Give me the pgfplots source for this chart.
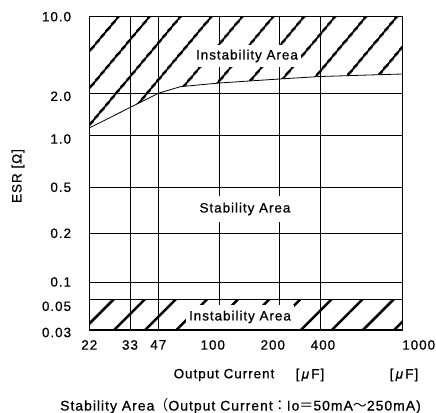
\documentclass[border=0pt]{standalone}
\usepackage{fontspec}
\setmainfont{Liberation Sans}[LetterSpace=7, FakeBold=0.6]
\newfontfamily\jpfont{Noto Sans CJK JP}
\usepackage{pgfplots}
\pgfplotsset{compat=1.18}
\usetikzlibrary{patterns.meta}

\newcommand\cf{\fontsize{13.5bp}{16bp}\selectfont}
% the datasheet scale is uneven, so values are kept in drawing units:
% x: 22=0 33=40.7 47=69 100=130 200=190 400=230.7 1000=313
% y: 0.03=0 0.05=30.7 0.1=48 0.2=96.7 0.5=142.7 1.0=195 2.0=236.7 10.0=313.3

\begin{document}
\begin{tikzpicture}[font=\cf]
\begin{axis}[
  scale only axis,
  width=313bp, height=313.3bp,
  xmin=0, xmax=313, ymin=0, ymax=313.3,
  clip=false,
  axis line style={line width=1.3bp},
  major tick length=0pt,
  grid=major,
  grid style={black, line width=0.9bp},
  xtick={0,40.7,69,130,190,230.7,313},
  xticklabels={22,33,47,\hspace*{-13bp}100,\hspace*{-13bp}200,\hspace*{6bp}400,\rlap{1000}},
  ytick={0,30.7,48,96.7,142.7,195,236.7,313.3},
  yticklabels={\raisebox{-2.5bp}[\height][\depth]{0.03},\raisebox{-7bp}[\height][\depth]{0.05},0.1,0.2,0.5,\raisebox{-4bp}[\height][\depth]{1.0},\raisebox{-3bp}[\height][\depth]{2.0},10.0},
  xticklabel style={font=\cf, anchor=north, inner sep=0pt, yshift=-10bp},
  yticklabel style={font=\cf, anchor=east, inner sep=0pt, xshift=-18bp},
]
% upper instability area
\addplot[draw=none, pattern={Lines[angle=50,distance=24bp,line width=2.5bp]}]
  coordinates {(0,202) (69,236.7) (91,243.3) (130,247) (190,251) (231,253.5) (313,256) (313,313.3) (0,313.3)} -- cycle;
% lower instability area
\addplot[draw=none, pattern={Lines[angle=45,distance=22bp,line width=2.5bp]}]
  coordinates {(0,0) (313,0) (313,30.7) (0,30.7)} -- cycle;
% stability limit
\addplot[black, line width=0.8bp]
  coordinates {(0,202) (69,236.7) (91,243.3) (130,247) (190,251) (231,253.5) (313,256)};

\node[fill=white, inner xsep=3bp, minimum height=22bp] at (axis cs:157.7,274) {Instability Area};
\node[fill=white, inner xsep=3bp, minimum height=26bp] at (axis cs:155.7,121) {Stability Area};
\node[fill=white, inner xsep=3bp, minimum height=24.4bp, anchor=south] at (axis cs:150.7,0.65) {Instability Area};

\node[rotate=90] at (axis cs:-71.3,154) {ESR [Ω]};
\node at (axis cs:134.7,-45) {Output Current};
\node at (axis cs:220.7,-45) {[\,{\itshape μ}\,F]};
\node at (axis cs:314.7,-45) {[\,{\itshape μ}\,F]};
\node[font=\fontsize{14bp}{16bp}\selectfont] at (axis cs:151.2,-76) {Stability Area{\jpfont （}Output Current{\jpfont ：}Io{\jpfont ＝}50mA{\jpfont ～}250mA)};

\coordinate (bl) at (axis cs:-89.3,-83);
\coordinate (tr) at (axis cs:346.7,330);
\end{axis}
\pgfresetboundingbox
\path (bl) rectangle (tr);
\end{tikzpicture}
\end{document}
